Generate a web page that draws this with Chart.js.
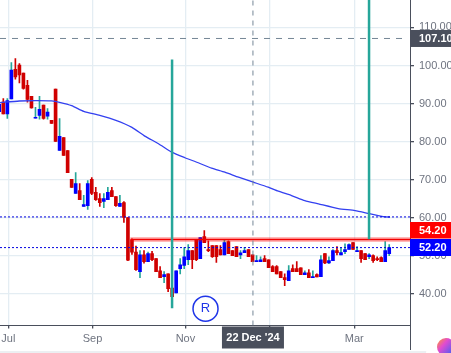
<!DOCTYPE html>
<html>
<head>
<meta charset="utf-8">
<style>
  html, body { margin: 0; padding: 0; background: #fff; overflow: hidden; }
  canvas { display: block; }
</style>
<script src="https://cdn.jsdelivr.net/npm/chart.js@4"></script>
</head>
<body>
<canvas id="chart" width="451" height="353"></canvas>
<script>
// daily candles, left to right
const opens = [87.9,90.4,87.3,91.2,99.0,100.1,98.0,94.8,91.9,86.2,86.9,89.6,86.7,85.6,93.8,77.7,81.1,77.7,70.1,66.4,
  67.2,63.0,63.2,70.1,66.7,65.1,64.3,64.8,67.2,65.6,63.0,64.0,60.1,54.2,51.0,45.9,50.3,48.5,50.6,49.3,
  46.1,44.6,45.3,41.6,40.3,46.7,47.5,49.0,51.4,54.2,49.3,55.1,51.7,52.7,52.7,51.7,50.3,53.8,51.4,52.5,
  50.3,50.9,51.7,50.3,48.5,48.5,49.3,49.0,47.2,47.2,45.9,44.3,43.5,46.7,46.7,46.9,45.1,45.6,44.3,45.1,
  44.6,50.6,48.2,48.8,51.4,50.3,51.1,51.7,53.5,51.1,51.4,50.6,49.8,50.1,49.3,49.6,48.5,50.6];
const closes = [89.8,87.3,90.8,98.8,97.0,97.5,94.0,91.1,88.9,86.4,88.5,86.1,87.8,84.8,80.1,81.4,76.4,71.9,68.0,69.0,
  64.8,63.5,69.0,66.4,64.8,64.0,65.1,66.7,65.6,63.2,63.8,60.1,48.9,51.0,46.4,50.3,48.5,50.6,49.0,45.9,
  44.3,45.1,41.4,39.3,46.1,47.7,49.8,51.4,49.0,49.0,54.8,53.5,51.4,49.8,49.8,50.3,53.5,50.6,50.1,49.8,
  50.8,51.4,49.8,48.5,48.8,49.0,48.5,46.9,45.9,45.3,44.3,43.8,46.1,45.9,45.9,45.1,45.6,44.3,44.6,44.5,
  49.0,48.2,48.8,51.4,50.9,50.9,51.7,53.0,51.7,51.4,49.3,49.0,50.3,48.8,49.0,48.5,51.4,52.2];
const highs = [89.9,91.3,91.3,100.8,101.8,100.5,98.0,96.1,91.9,89.0,91.9,89.6,88.7,85.6,93.8,86.1,81.1,77.7,70.1,71.9,
  69.0,65.9,69.8,70.6,68.0,66.4,66.4,68.0,68.0,65.6,65.9,64.3,60.1,54.5,52.6,51.4,51.4,51.0,51.2,49.3,
  47.2,45.9,45.3,41.6,46.1,49.3,52.2,53.0,51.4,54.2,54.8,56.7,54.0,52.7,52.7,52.7,54.2,54.0,51.4,52.5,
  51.4,52.3,51.7,50.3,50.1,49.8,50.1,49.0,47.5,47.5,45.9,45.3,47.5,47.7,48.5,46.9,46.1,46.4,46.1,45.3,
  50.1,50.6,49.8,51.7,52.5,52.2,53.2,53.2,53.5,52.5,51.4,50.6,50.6,50.3,49.8,49.8,53.8,53.0];
const lows = [87.9,87.3,86.1,91.2,96.4,95.4,93.8,90.4,88.8,86.2,85.9,85.9,85.9,84.8,80.1,77.7,76.4,71.9,68.0,66.4,
  64.8,63.0,62.2,66.1,64.6,63.0,62.7,64.8,65.6,63.0,63.0,58.8,48.8,50.4,46.2,44.3,48.1,48.5,48.8,45.9,
  44.3,43.0,40.6,39.3,40.3,45.3,46.7,47.7,46.7,48.8,49.3,53.5,51.1,49.6,48.3,50.3,50.3,50.6,50.1,49.8,
  49.3,50.9,49.8,48.5,48.5,48.5,48.5,46.9,45.9,45.3,44.3,42.2,43.5,45.9,45.9,45.1,45.1,44.3,44.3,44.5,
  44.6,48.0,48.0,48.8,50.3,50.3,50.6,51.7,51.7,51.1,48.3,49.0,49.3,48.3,48.8,48.5,48.5,50.1];

// moving average, points
const ma_index = [0,5,9,13,15,18,21,25,29,33,36.2,39.6,42.9,46.2,49.5,52.8,56.1,59.5,63.2,66.9,69.4,72.7,76,79.4,84.3,88.5,92,95.9,97.2];
const ma_values = [90.26,90.68,90.79,90.7,90.34,89.47,87.97,86.9,85.6,83.76,81.47,79.47,77.26,75.79,74.47,73.05,72.0,70.68,69.37,68.05,67.0,65.87,64.55,63.68,62.45,61.92,61.13,60.26,60.23];

const x_tick_index = [2.24,23.2,46.3,67.2,88.3];
const x_tick_labels = ["Jul","Sep","Nov","Jan","Mar"];
const y_ticks = [40,50,60,70,80,90,100,110];

const level_blue_low = 52.2;
const level_blue_high = 60.25;
const level_red = 54.35;
const level_last = 107.1;
const crosshair_index = 63.1;
const x_min = 0.174;
const x_max = 102.17;
const y_min = 31.75;
const y_max = 117.2;

const col_up = "#0000ff";
const col_down = "#d00000";
const col_wick = "#26a69a";

const bodies = opens.map((o, i) => ({ x: i, y: [o, closes[i]] }));
const wicks = lows.map((l, i) => ({ x: i, y: [l, highs[i]] }));
const is_up = opens.map((o, i) => closes[i] >= o);

function vline(x, y0, y1, colour, width, dash) {
  return { type: "line", data: [{ x, y: y0 }, { x, y: y1 }], borderColor: colour, borderWidth: width,
    borderDash: dash || [], pointRadius: 0, order: 1 };
}
function hline(x0, x1, y, colour, width, dash) {
  return { type: "line", data: [{ x: x0, y }, { x: x1, y }], borderColor: colour, borderWidth: width,
    borderDash: dash || [], pointRadius: 0, order: 2 };
}

function priceBox(ctx, area, text, top, height, fill) {
  ctx.fillStyle = fill;
  ctx.fillRect(area.right, top, 451 - area.right, height);
  ctx.fillStyle = "#fff";
  ctx.font = "bold 11px 'Liberation Sans', Arial, sans-serif";
  ctx.textAlign = "left";
  ctx.textBaseline = "middle";
  ctx.fillText(text, area.right + 9, top + height / 2 + 0.5);
}

const overlay = {
  id: "overlay",
  afterDraw(chart) {
    const ctx = chart.ctx;
    const area = chart.chartArea;
    const xs = chart.scales.x;
    const ys = chart.scales.y;
    ctx.save();

    // strip along the bottom and the axis running on below the plot
    ctx.fillStyle = "#eceff2";
    ctx.fillRect(0, 351, 451, 2);
    ctx.strokeStyle = "#4a4f5c";
    ctx.lineWidth = 1;
    ctx.beginPath();
    ctx.moveTo(area.right + 0.5, area.bottom);
    ctx.lineTo(area.right + 0.5, 350);
    ctx.stroke();

    priceBox(ctx, area, "107.10", ys.getPixelForValue(level_last) - 8.5, 17, "#4a4f5c");
    priceBox(ctx, area, "54.20", 222, 16.5, "#ff0000");
    priceBox(ctx, area, "52.20", 239, 17, "#0000ff");

    // date label of the crosshair
    const cx = xs.getPixelForValue(crosshair_index);
    ctx.fillStyle = "#4a4f5c";
    ctx.fillRect(cx - 31, area.bottom + 1, 62, 22);
    ctx.fillStyle = "#fff";
    ctx.font = "bold 11px 'Liberation Sans', Arial, sans-serif";
    ctx.textAlign = "center";
    ctx.textBaseline = "middle";
    ctx.fillText("22 Dec '24", cx, area.bottom + 12.5);

    // R marker
    const rx = xs.getPixelForValue(51.3);
    const ry = ys.getPixelForValue(36.15);
    ctx.strokeStyle = "#1f35e8";
    ctx.lineWidth = 1.5;
    ctx.beginPath();
    ctx.arc(rx, ry, 12.5, 0, Math.PI * 2);
    ctx.stroke();
    ctx.fillStyle = "#1f35e8";
    ctx.font = "13px 'Liberation Sans', Arial, sans-serif";
    ctx.fillText("R", rx, ry);

    // round badge cut off by the corner
    ctx.fillStyle = "#fff";
    ctx.beginPath();
    ctx.arc(452, 354, 26, 0, Math.PI * 2);
    ctx.fill();
    const brain = ctx.createLinearGradient(436, 340, 451, 353);
    brain.addColorStop(0, "#ff9a2e");
    brain.addColorStop(0.45, "#e24bd0");
    brain.addColorStop(1, "#5a5cf0");
    ctx.fillStyle = brain;
    ctx.beginPath();
    ctx.arc(446, 347, 9, 0, Math.PI * 2);
    ctx.fill();
    ctx.restore();
  }
};

function noScalePadding(scale) {
  scale.paddingLeft = 0;
  scale.paddingRight = 0;
  scale.paddingTop = 0;
  scale.paddingBottom = 0;
}

new Chart(document.getElementById("chart").getContext("2d"), {
  type: "bar",
  plugins: [overlay],
  data: {
    datasets: [
      { data: wicks, barThickness: 1, grouped: false, order: 6,
        backgroundColor: is_up.map(u => u ? col_wick : col_down) },
      { data: bodies, barThickness: 3, grouped: false, order: 5,
        backgroundColor: is_up.map(u => u ? col_up : col_down) },
      { type: "line", data: ma_index.map((x, i) => ({ x, y: ma_values[i] })), borderColor: "#3340f0",
        borderWidth: 1.3, pointRadius: 0, tension: 0.2, order: 4 },
      hline(x_min, x_max, level_blue_high, "#0000e0", 1, [2, 2]),
      hline(x_min, x_max, level_blue_low, "#0000e0", 1, [2, 2]),
      hline(x_min, x_max - 1.7, level_last, "#758696", 1, [6, 6]),
      hline(32.6, x_max, level_red, "rgba(255,0,0,0.28)", 5),
      hline(32.6, x_max, level_red, "#f00000", 1.5),
      vline(crosshair_index, y_min, y_max, "#758696", 1, [5, 5]),
      vline(42.98, 36.3, 101.6, col_wick, 2.5),
      vline(91.98, 54.4, y_max, col_wick, 2.5)
    ]
  },
  options: {
    responsive: false,
    animation: false,
    layout: { padding: 0 },
    plugins: { legend: { display: false }, tooltip: { enabled: false } },
    scales: {
      x: {
        type: "linear",
        offset: false,
        min: x_min,
        max: x_max,
        afterBuildTicks: scale => { scale.ticks = x_tick_index.map(value => ({ value })); },
        afterFit: scale => { scale.height = 27.5; noScalePadding(scale); },
        grid: { offset: false, color: "#e4edf3", lineWidth: 1.3, tickColor: "#4a4f5c", tickLength: 3 },
        border: { color: "#4a4f5c", width: 1 },
        ticks: {
          maxRotation: 0,
          autoSkip: false,
          padding: 4,
          color: "#6f7480",
          font: { family: "'Liberation Sans', Arial, sans-serif", size: 11 },
          callback: value => x_tick_labels[x_tick_index.indexOf(value)]
        }
      },
      y: {
        position: "right",
        min: y_min,
        max: y_max,
        afterBuildTicks: scale => { scale.ticks = y_ticks.map(value => ({ value })); },
        afterFit: scale => { scale.width = 41; noScalePadding(scale); },
        grid: { color: "#e4edf3", lineWidth: 1.3, tickColor: "#4a4f5c", tickLength: 4 },
        border: { color: "#4a4f5c", width: 1 },
        ticks: {
          padding: 5,
          color: "#6f7480",
          font: { family: "'Liberation Sans', Arial, sans-serif", size: 11 },
          callback: value => value.toFixed(2)
        }
      }
    }
  }
});
</script>
</body>
</html>
